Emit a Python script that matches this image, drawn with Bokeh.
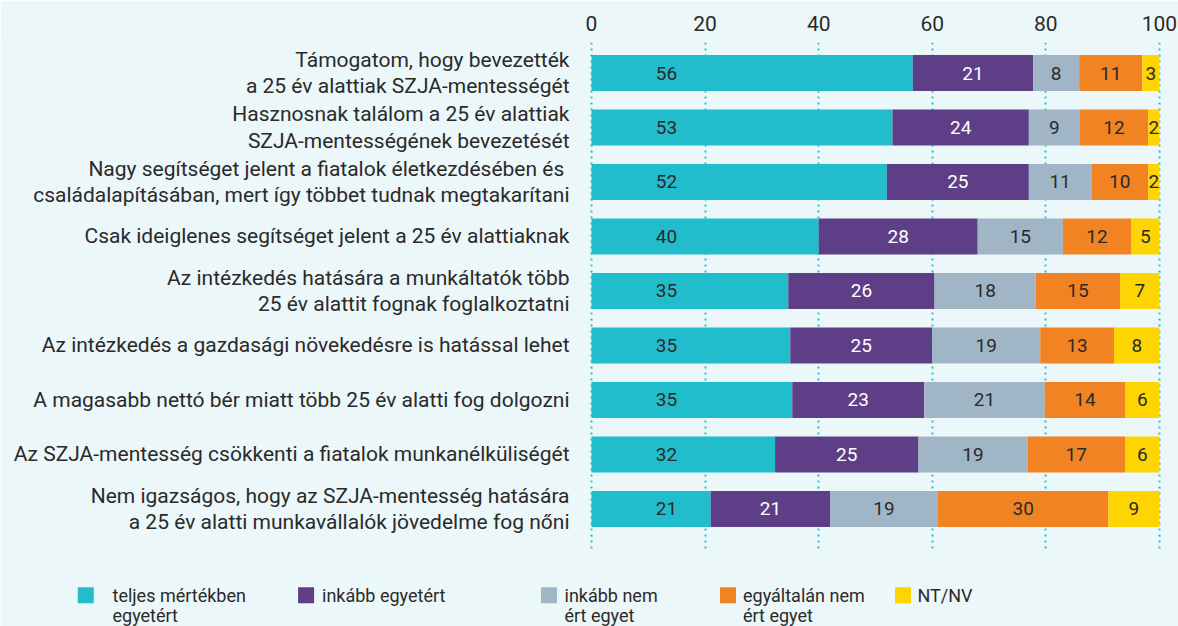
from bokeh.plotting import figure
from bokeh.models import Range1d, ColumnDataSource, FixedTicker
from bokeh.layouts import column
from bokeh.core.properties import value
from bokeh.embed import file_html
from bokeh.resources import INLINE

categories = [
    "Támogatom, hogy bevezették\na 25 év alattiak SZJA-mentességét",
    "Hasznosnak találom a 25 év alattiak\nSZJA-mentességének bevezetését",
    "Nagy segítséget jelent a fiatalok életkezdésében  és\ncsaládalapításában, mert így többet tudnak megtakarítani",
    "Csak ideiglenes segítséget jelent a 25 év alattiaknak",
    "Az intézkedés hatására a munkáltatók több\n25 év alattit fognak foglalkoztatni",
    "Az intézkedés a gazdasági növekedésre is hatással lehet",
    "A magasabb nettó bér miatt több 25 év alatti fog dolgozni",
    "Az SZJA-mentesség csökkenti a fiatalok munkanélküliségét",
    "Nem igazságos, hogy az SZJA-mentesség hatására\na 25 év alatti munkavállalók jövedelme fog nőni",
]

teljes = [56, 53, 52, 40, 35, 35, 35, 32, 21]
inkabb_egyetert = [21, 24, 25, 28, 26, 25, 23, 25, 21]
inkabb_nem = [8, 9, 11, 15, 18, 19, 21, 19, 19]
egyaltalan_nem = [11, 12, 10, 12, 15, 13, 14, 17, 30]
ntnv = [3, 2, 2, 5, 7, 8, 6, 6, 9]

series_names = ["teljes mértékben\negyetért", "inkább egyetért", "inkább nem\nért egyet",
                "egyáltalán nem\nért egyet", "NT/NV"]
series_values = [teljes, inkabb_egyetert, inkabb_nem, egyaltalan_nem, ntnv]
colors = ["#22bdcd", "#5e3e87", "#a0b6c6", "#f28322", "#fed402"]
label_colors = ["#2a2a2a", "#ffffff", "#2a2a2a", "#2a2a2a", "#2a2a2a"]

tick_values = [0, 20, 40, 60, 80, 100]

BG = "#ecf7f9"
FONT = "Roboto"
TXT = "#2a2a2a"
GRID = "#2bbfd2"

n = len(categories)
ys = list(range(n))

p = figure(width=1178, height=552,
           x_range=Range1d(-104.05, 103.35), y_range=Range1d(8.80, -0.56),
           output_backend="svg", toolbar_location=None,
           x_axis_location="above", y_axis_location=None,
           min_border_left=0, min_border_right=0, min_border_top=42, min_border_bottom=0,
           background_fill_color=BG, border_fill_color=BG, outline_line_color=None)

p.xaxis.ticker = FixedTicker(ticks=tick_values)
p.xaxis.axis_line_color = None
p.xaxis.major_tick_line_color = None
p.xaxis.minor_tick_line_color = None
p.xaxis.major_label_standoff = 6
p.xaxis.major_label_text_font_size = "21px"
p.xaxis.major_label_text_font = FONT
p.xaxis.major_label_text_color = TXT

p.ygrid.visible = False
p.xgrid.ticker = FixedTicker(ticks=tick_values)
p.xgrid.grid_line_color = GRID
p.xgrid.grid_line_width = 2
p.xgrid.grid_line_dash = "2 4"

totals = [sum(vals[i] for vals in series_values) for i in range(n)]
lefts = [0.0] * n
for k, vals in enumerate(series_values):
    widths = [vals[i] / totals[i] * 100 for i in range(n)]
    rights = [lefts[i] + widths[i] for i in range(n)]
    if k == 0:
        lx = [13.2] * n
    else:
        lx = [lefts[i] + widths[i] / 2 for i in range(n)]
    src = ColumnDataSource(dict(y=ys, left=lefts, right=rights, lx=lx,
                                lab=[str(v) for v in vals]))
    p.hbar(y="y", left="left", right="right", height=0.66, source=src,
           fill_color=colors[k], line_color=None)
    p.text(x="lx", y="y", text="lab", source=src, text_align="center",
           text_baseline="middle", text_font=value(FONT), text_font_size="19px",
           text_color=label_colors[k], text_font_style="normal")
    lefts = rights

cat_src = ColumnDataSource(dict(x=[-3.87] * n, y=ys, t=categories))
p.text(x="x", y="y", text="t", source=cat_src, text_align="right",
       text_baseline="middle", text_font=value(FONT), text_font_size="21px",
       text_color=TXT, text_line_height=1.1)

# legend figure
leg = figure(width=1178, height=74, x_range=Range1d(0, 1178), y_range=Range1d(74, 0),
             output_backend="svg", toolbar_location=None,
             x_axis_location=None, y_axis_location=None,
             min_border_left=0, min_border_right=0, min_border_top=0, min_border_bottom=0,
             background_fill_color=BG, border_fill_color=BG, outline_line_color=None)
leg.grid.visible = False

sq_x = [85.3, 305.6, 548.5, 727.5, 902.5]
tx_x = [112, 321.5, 564, 742.5, 917]
leg.rect(x=sq_x, y=[42.8] * 5, width=16, height=16, fill_color=colors, line_color=None)
l1 = [s.split("\n")[0] for s in series_names]
l2 = [s.split("\n")[1] if "\n" in s else "" for s in series_names]
leg.text(x=tx_x, y=[42.5] * 5, text=l1, text_align="left", text_baseline="middle",
         text_font=value(FONT), text_font_size="18px", text_color=TXT)
leg.text(x=tx_x, y=[62.8] * 5, text=l2, text_align="left", text_baseline="middle",
         text_font=value(FONT), text_font_size="18px", text_color=TXT)

layout = column(p, leg, spacing=0)
open("out.html", "w").write(file_html(layout, INLINE))
